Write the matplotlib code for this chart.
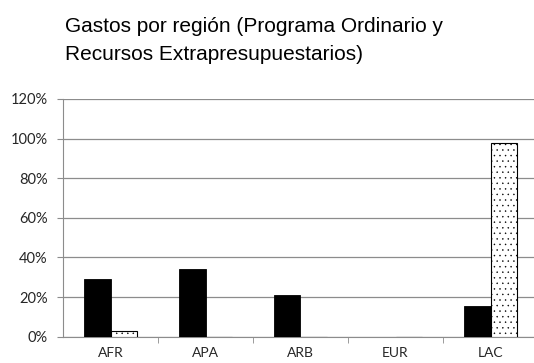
import numpy as np
import matplotlib.pyplot as plt

# Regions and share of expenditure per funding source
regions = ["AFR", "APA", "ARB", "EUR", "LAC"]
programa_ordinario = [0.29, 0.34, 0.21, 0.0, 0.155]
extrapresupuestarios = [0.03, 0.0, 0.0, 0.0, 0.98]

plt.rcParams['hatch.linewidth'] = 0.3

fig = plt.figure(figsize=(5.34, 3.63), dpi=100)
ax = fig.add_axes([63 / 534, 26.3 / 363, 475 / 534, 237.7 / 363])

x = np.arange(len(regions))
w = 0.284
ax.bar(x - w / 2, programa_ordinario, w, color="black", edgecolor="black",
       linewidth=0.6, zorder=3)
ax.bar(x + w / 2, extrapresupuestarios, w, color="white", edgecolor="black",
       hatch="...", linewidth=0.8, zorder=3)

ax.set_xlim(-0.5, len(regions) - 0.5)
ax.set_ylim(0, 1.2)
ax.set_yticks(np.arange(0, 1.21, 0.2))
ax.set_yticklabels([f"{int(round(v * 100))}%" for v in np.arange(0, 1.21, 0.2)])
ax.set_xticks(x)
ax.set_xticklabels(regions)
ax.set_xticks(np.arange(0.5, len(regions) - 0.5, 1), minor=True)

gray = "#8c8c8c"
ax.grid(axis="y", color=gray, linewidth=0.9, zorder=0)
for s in ["top", "right"]:
    ax.spines[s].set_visible(False)
ax.spines["left"].set_color(gray)
ax.spines["bottom"].set_color(gray)
ax.tick_params(axis="y", length=4, color=gray, labelsize=10.5, labelcolor="#262626", pad=7)
ax.tick_params(axis="x", which="major", length=0, labelsize=10, labelcolor="#262626", pad=7.5)
ax.tick_params(axis="x", which="minor", length=4, color=gray)
for lbl in ax.get_xticklabels() + ax.get_yticklabels():
    lbl.set_family("Lato")

fig.text(65 / 534, 1 - 17 / 363,
         "Gastos por región (Programa Ordinario y\nRecursos Extrapresupuestarios)",
         ha="left", va="top", fontsize=15, family="Liberation Sans",
         linespacing=1.6)

fig.savefig("out.png", dpi=100)
